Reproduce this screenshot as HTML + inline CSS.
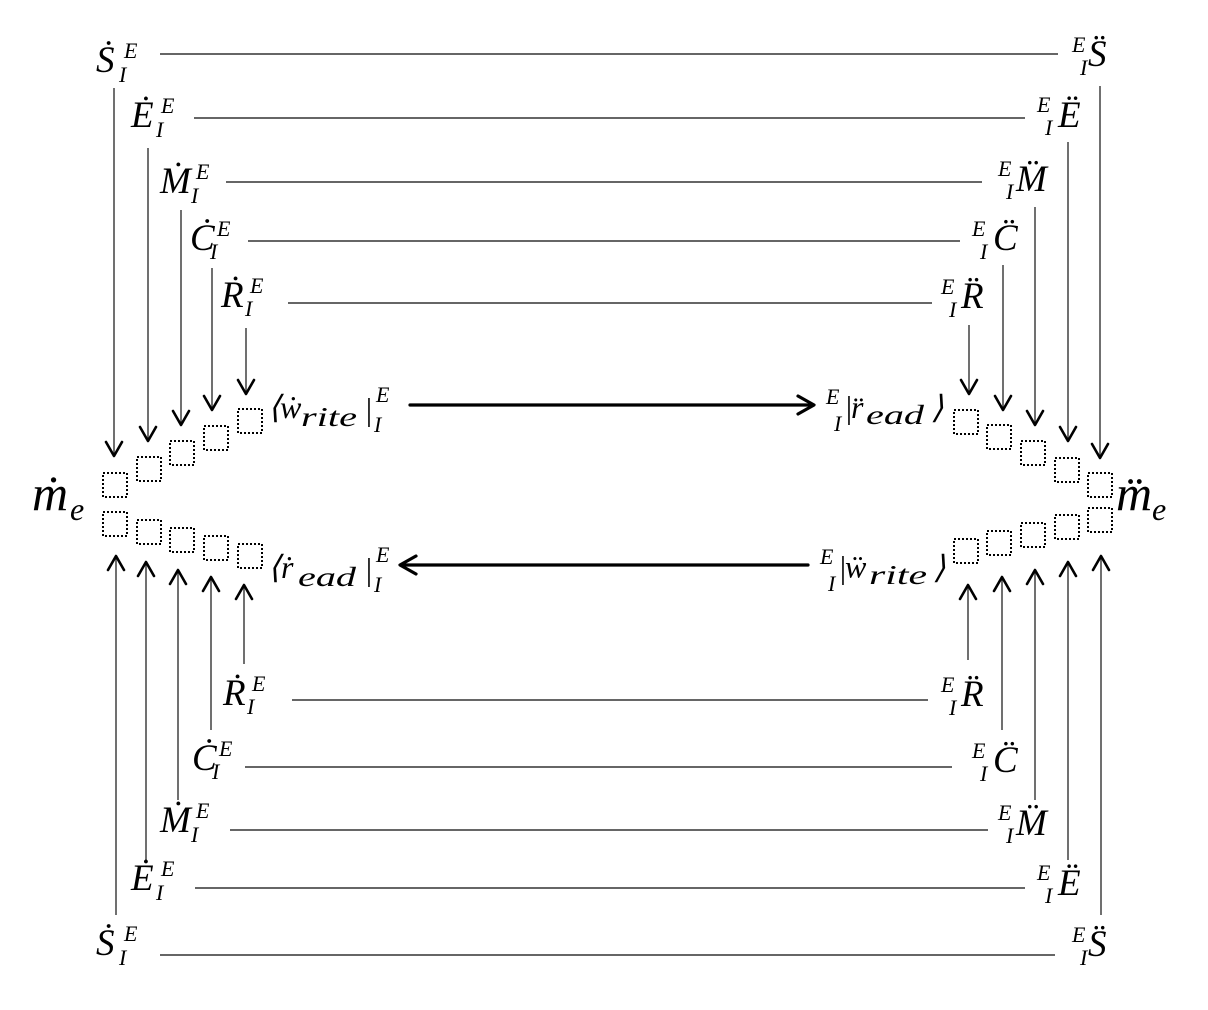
<!DOCTYPE html>
<html><head><meta charset="utf-8"><style>
html,body{margin:0;padding:0;background:#fff;}
svg{display:block;}
text{font-family:"Liberation Serif",serif;font-style:italic;fill:#000;}
.b{font-size:37px}.s{font-size:22px}.m{font-size:50px}.c{font-size:32px}.cs{font-size:27px}
</style></head><body>
<svg width="1208" height="1010" viewBox="0 0 1208 1010" xmlns="http://www.w3.org/2000/svg">
<g stroke="#333" stroke-width="1.4" fill="none">
<line x1="160" y1="54" x2="1058" y2="54"/>
<line x1="194" y1="118" x2="1025" y2="118"/>
<line x1="226" y1="182" x2="982" y2="182"/>
<line x1="248" y1="241" x2="960" y2="241"/>
<line x1="288" y1="303" x2="932" y2="303"/>
<line x1="292" y1="700" x2="928" y2="700"/>
<line x1="245" y1="767" x2="952" y2="767"/>
<line x1="230" y1="830" x2="988" y2="830"/>
<line x1="195" y1="888" x2="1025" y2="888"/>
<line x1="160" y1="955" x2="1055" y2="955"/>
<line x1="114" y1="88" x2="114" y2="456"/>
<line x1="148" y1="148" x2="148" y2="441"/>
<line x1="181" y1="210" x2="181" y2="425"/>
<line x1="212" y1="268" x2="212" y2="410"/>
<line x1="246" y1="328" x2="246" y2="394"/>
<line x1="1100" y1="86" x2="1100" y2="458"/>
<line x1="1068" y1="142" x2="1068" y2="441"/>
<line x1="1035" y1="207" x2="1035" y2="425"/>
<line x1="1003" y1="265" x2="1003" y2="410"/>
<line x1="969" y1="325" x2="969" y2="394"/>
<line x1="116" y1="915" x2="116" y2="556"/>
<line x1="146" y1="860" x2="146" y2="562"/>
<line x1="178" y1="800" x2="178" y2="570"/>
<line x1="211" y1="730" x2="211" y2="577"/>
<line x1="244" y1="664" x2="244" y2="585"/>
<line x1="968" y1="660" x2="968" y2="585"/>
<line x1="1002" y1="730" x2="1002" y2="577"/>
<line x1="1035" y1="800" x2="1035" y2="570"/>
<line x1="1068" y1="860" x2="1068" y2="562"/>
<line x1="1101" y1="915" x2="1101" y2="556"/>
</g>
<g stroke="#000" stroke-width="2.6" fill="none" stroke-linecap="round" stroke-linejoin="round">
<path d="M106,442 L114,456 L122,442"/>
<path d="M140,427 L148,441 L156,427"/>
<path d="M173,411 L181,425 L189,411"/>
<path d="M204,396 L212,410 L220,396"/>
<path d="M238,380 L246,394 L254,380"/>
<path d="M1092,444 L1100,458 L1108,444"/>
<path d="M1060,427 L1068,441 L1076,427"/>
<path d="M1027,411 L1035,425 L1043,411"/>
<path d="M995,396 L1003,410 L1011,396"/>
<path d="M961,380 L969,394 L977,380"/>
<path d="M108,570 L116,556 L124,570"/>
<path d="M138,576 L146,562 L154,576"/>
<path d="M170,584 L178,570 L186,584"/>
<path d="M203,591 L211,577 L219,591"/>
<path d="M236,599 L244,585 L252,599"/>
<path d="M960,599 L968,585 L976,599"/>
<path d="M994,591 L1002,577 L1010,591"/>
<path d="M1027,584 L1035,570 L1043,584"/>
<path d="M1060,576 L1068,562 L1076,576"/>
<path d="M1093,570 L1101,556 L1109,570"/>
<line x1="410" y1="405" x2="812" y2="405" stroke-width="3.2"/>
<path d="M798,396 L814,405 L798,414" stroke-width="3.2"/>
<line x1="402" y1="565" x2="808" y2="565" stroke-width="3.2"/>
<path d="M416,556 L400,565 L416,574" stroke-width="3.2"/>
</g>
<g stroke="#000" stroke-width="2" stroke-dasharray="2 2" fill="none">
<rect x="103" y="473" width="24" height="24"/>
<rect x="137" y="457" width="24" height="24"/>
<rect x="170" y="441" width="24" height="24"/>
<rect x="204" y="426" width="24" height="24"/>
<rect x="238" y="409" width="24" height="24"/>
<rect x="103" y="512" width="24" height="24"/>
<rect x="137" y="520" width="24" height="24"/>
<rect x="170" y="528" width="24" height="24"/>
<rect x="204" y="536" width="24" height="24"/>
<rect x="238" y="544" width="24" height="24"/>
<rect x="954" y="410" width="24" height="24"/>
<rect x="987" y="425" width="24" height="24"/>
<rect x="1021" y="441" width="24" height="24"/>
<rect x="1055" y="458" width="24" height="24"/>
<rect x="1088" y="473" width="24" height="24"/>
<rect x="954" y="539" width="24" height="24"/>
<rect x="987" y="531" width="24" height="24"/>
<rect x="1021" y="523" width="24" height="24"/>
<rect x="1055" y="515" width="24" height="24"/>
<rect x="1088" y="508" width="24" height="24"/>
</g>
<text class="b" x="96" y="72">Ṡ</text><text class="s" x="124" y="58">E</text><text class="s" x="119" y="82">I</text>
<text class="b" x="131" y="127">Ė</text><text class="s" x="161" y="113">E</text><text class="s" x="156" y="137">I</text>
<text class="b" x="160" y="193">Ṁ</text><text class="s" x="196" y="179">E</text><text class="s" x="191" y="203">I</text>
<text class="b" x="190" y="250">Ċ</text><text class="s" x="217" y="236">E</text><text class="s" x="210" y="259">I</text>
<text class="b" x="221" y="307">Ṙ</text><text class="s" x="250" y="293">E</text><text class="s" x="245" y="316">I</text>
<text class="b" x="223" y="705">Ṙ</text><text class="s" x="252" y="691">E</text><text class="s" x="247" y="714">I</text>
<text class="b" x="192" y="770">Ċ</text><text class="s" x="219" y="756">E</text><text class="s" x="212" y="779">I</text>
<text class="b" x="160" y="832">Ṁ</text><text class="s" x="196" y="818">E</text><text class="s" x="191" y="842">I</text>
<text class="b" x="131" y="890">Ė</text><text class="s" x="161" y="876">E</text><text class="s" x="156" y="900">I</text>
<text class="b" x="96" y="955">Ṡ</text><text class="s" x="124" y="941">E</text><text class="s" x="119" y="965">I</text>
<text class="s" x="1072" y="52">E</text><text class="s" x="1080" y="75">I</text><text class="b" x="1088" y="66">S̈</text>
<text class="s" x="1037" y="112">E</text><text class="s" x="1045" y="135">I</text><text class="b" x="1058" y="127">Ë</text>
<text class="s" x="998" y="176">E</text><text class="s" x="1006" y="199">I</text><text class="b" x="1016" y="191">M̈</text>
<text class="s" x="972" y="236">E</text><text class="s" x="980" y="259">I</text><text class="b" x="993" y="250">C̈</text>
<text class="s" x="941" y="294">E</text><text class="s" x="949" y="317">I</text><text class="b" x="961" y="308">R̈</text>
<text class="s" x="941" y="692">E</text><text class="s" x="949" y="715">I</text><text class="b" x="961" y="706">R̈</text>
<text class="s" x="972" y="758">E</text><text class="s" x="980" y="781">I</text><text class="b" x="993" y="772">C̈</text>
<text class="s" x="998" y="820">E</text><text class="s" x="1006" y="843">I</text><text class="b" x="1016" y="835">M̈</text>
<text class="s" x="1037" y="880">E</text><text class="s" x="1045" y="903">I</text><text class="b" x="1058" y="895">Ë</text>
<text class="s" x="1072" y="942">E</text><text class="s" x="1080" y="965">I</text><text class="b" x="1088" y="956">S̈</text>
<text class="m" x="32" y="510">ṁ</text><text class="c" x="70" y="520">e</text>
<text class="m" x="1116" y="510">m̈</text><text class="c" x="1152" y="520">e</text>
<text class="c" x="268" y="418" font-style="normal">⟨</text>
<text class="c" x="280" y="418">ẇ</text>
<text class="cs" x="301" y="426" textLength="56" lengthAdjust="spacingAndGlyphs">rite</text>
<text class="c" x="364" y="420" font-style="normal">|</text>
<text class="s" x="376" y="402">E</text><text class="s" x="374" y="432">I</text>
<text class="s" x="826" y="404">E</text><text class="s" x="834" y="431">I</text>
<text class="c" x="844" y="418" font-style="normal">|</text>
<text class="c" x="851" y="418">r̈</text>
<text class="cs" x="866" y="424" textLength="58" lengthAdjust="spacingAndGlyphs">ead</text>
<text class="c" x="931" y="418" font-style="normal">⟩</text>
<text class="c" x="268" y="578" font-style="normal">⟨</text>
<text class="c" x="281" y="578">ṙ</text>
<text class="cs" x="298" y="586" textLength="58" lengthAdjust="spacingAndGlyphs">ead</text>
<text class="c" x="364" y="580" font-style="normal">|</text>
<text class="s" x="376" y="562">E</text><text class="s" x="374" y="592">I</text>
<text class="s" x="820" y="564">E</text><text class="s" x="828" y="591">I</text>
<text class="c" x="838" y="578" font-style="normal">|</text>
<text class="c" x="845" y="578">ẅ</text>
<text class="cs" x="869" y="584" textLength="58" lengthAdjust="spacingAndGlyphs">rite</text>
<text class="c" x="933" y="578" font-style="normal">⟩</text>
</svg>
</body></html>
